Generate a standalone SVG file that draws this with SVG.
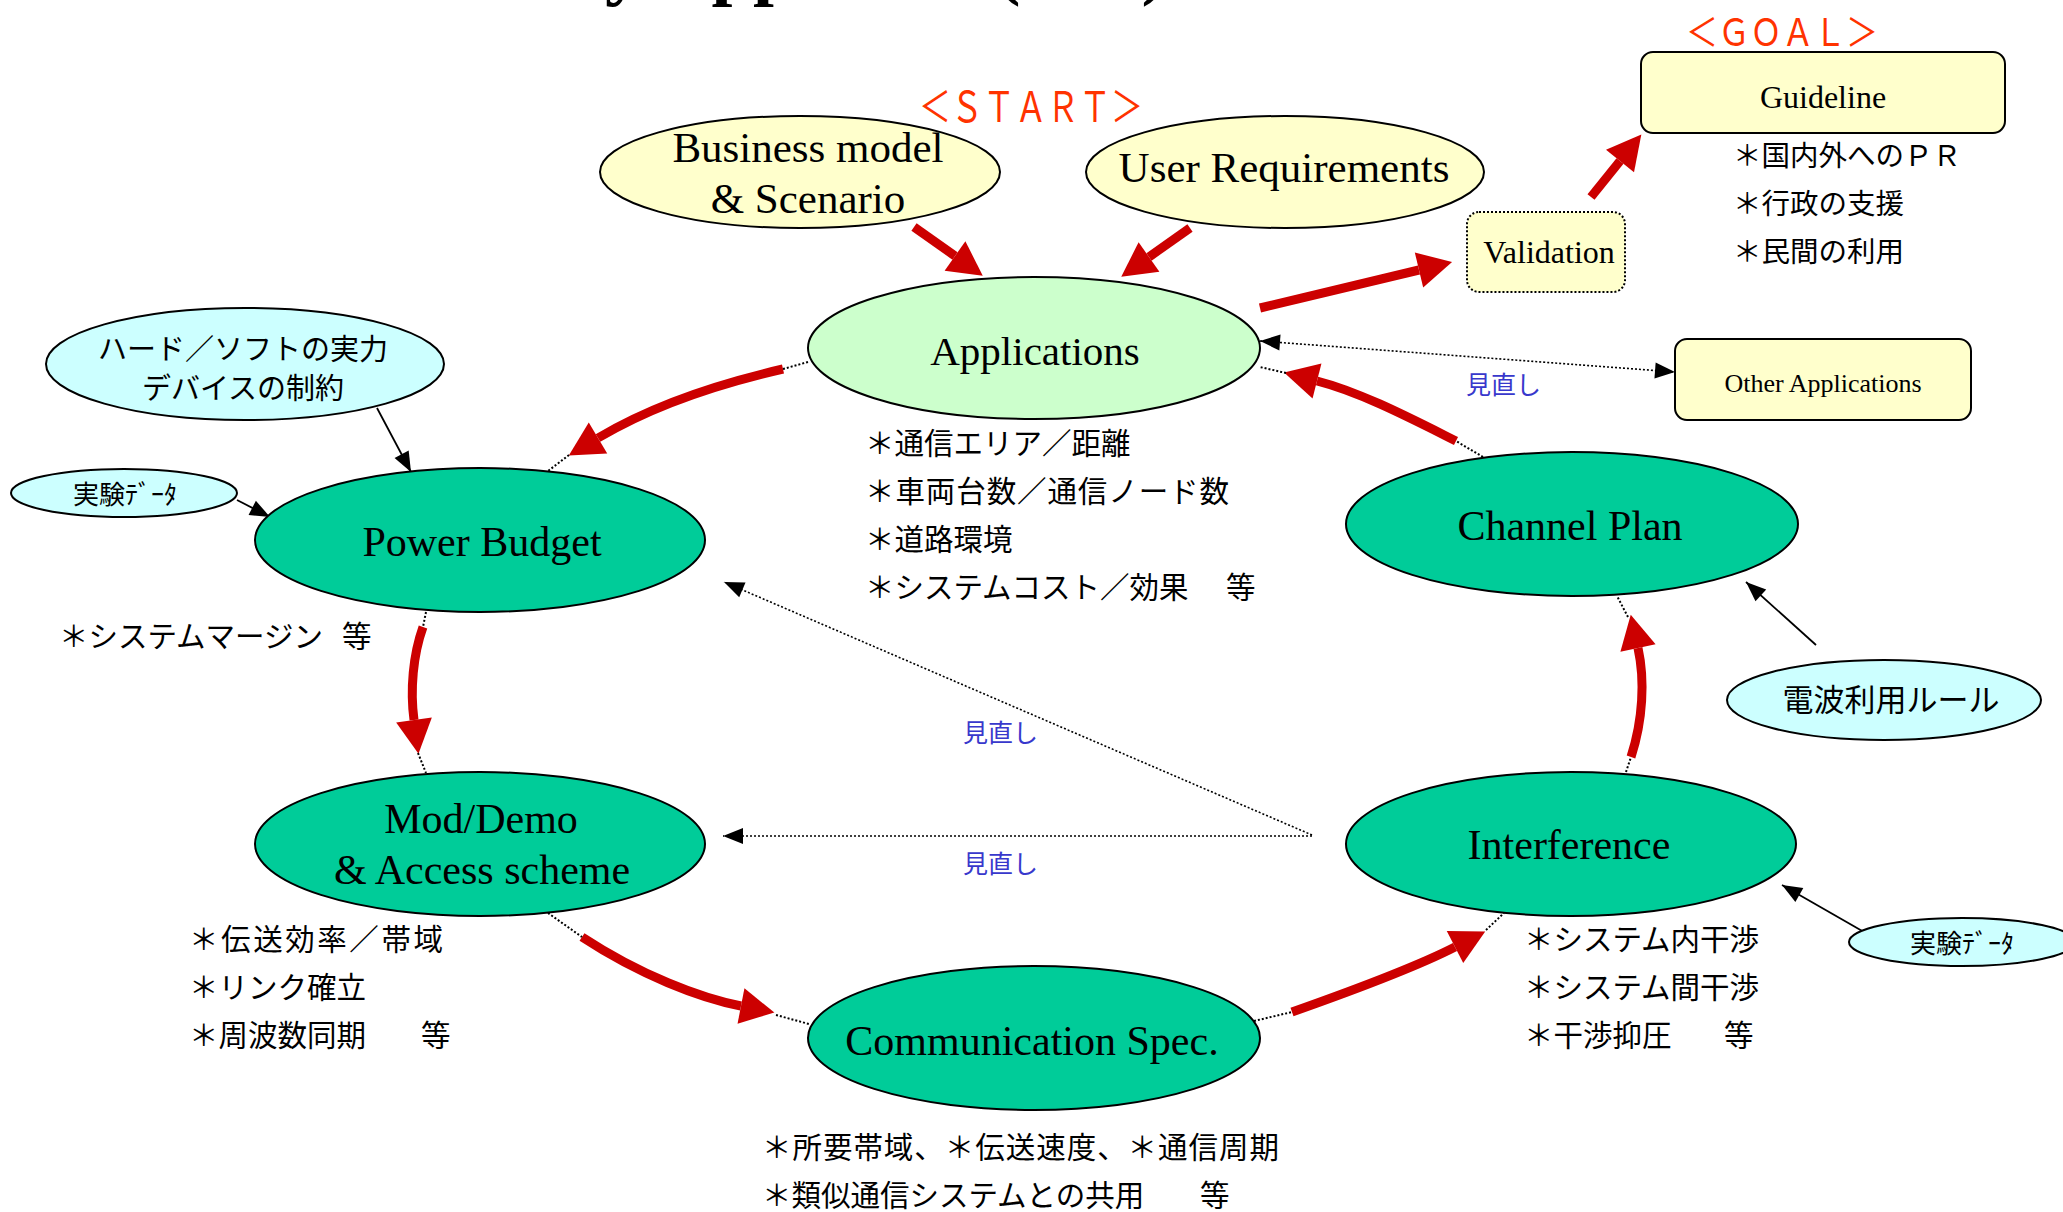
<svg xmlns="http://www.w3.org/2000/svg" width="2063" height="1212" viewBox="0 0 2063 1212">
<defs>
<style>
.serif{font-family:'Liberation Serif','Times New Roman',serif;fill:#000}
.jp{font-family:'Noto Sans CJK JP','Noto Sans',sans-serif;fill:#000}
.green{fill:#00CC99;stroke:#000;stroke-width:2}
.apps{fill:#CCFFCC;stroke:#000;stroke-width:2}
.yellow{fill:#FFFFCC;stroke:#000;stroke-width:2}
.yellowdot{fill:#FFFFCC;stroke:#000;stroke-width:2;stroke-dasharray:2 2}
.cyan{fill:#CCFFFF;stroke:#000;stroke-width:2}
.red{fill:none;stroke:#CC0000;stroke-width:9}
.dot{fill:none;stroke:#000;stroke-width:2;stroke-dasharray:2 2}
.ldot{fill:none;stroke:#000;stroke-width:1.6;stroke-dasharray:2 2}
.thin{fill:none;stroke:#000;stroke-width:1.8}
.mark{font-family:'Noto Sans CJK JP',sans-serif;fill:#FF3300;font-size:32px}
.rev{font-family:'Noto Sans CJK JP',sans-serif;fill:#3838CC;font-size:25px}
.bul{font-size:29.5px}
</style>
<marker id="redhead" markerUnits="userSpaceOnUse" markerWidth="40" markerHeight="40" viewBox="0 -20 40 40" refX="0" refY="0" orient="auto" overflow="visible">
<path d="M0,-18 L34,0 L0,18 Z" fill="#CC0000"/>
</marker>
<marker id="blackhead" markerUnits="userSpaceOnUse" markerWidth="20" markerHeight="20" viewBox="0 -10 20 20" refX="20" refY="0" orient="auto-start-reverse" overflow="visible">
<path d="M0,-8 L20,0 L0,8 Z" fill="#000"/>
</marker>
</defs>
<rect width="2063" height="1212" fill="#fff"/>

<text id="title" class="serif" x="455" y="-9" font-size="75" font-weight="bold">Study Approach (ITS)</text>

<g id="connectors">
<!-- red flow arrows -->
<path class="red" d="M914,227 L955,256" marker-end="url(#redhead)"/>
<path class="red" d="M1190,228 L1149,257" marker-end="url(#redhead)"/>
<path class="red" d="M1260,308 L1419,270" marker-end="url(#redhead)"/>
<path class="red" d="M1591,197 L1620,161" marker-end="url(#redhead)"/>
<path class="red" d="M783,369 Q670,395 598,438" marker-end="url(#redhead)"/>
<path class="red" d="M423,627 C413,655 410,690 414,720" marker-end="url(#redhead)"/>
<path class="red" d="M582,937 C640,975 700,998 741,1006" marker-end="url(#redhead)"/>
<path class="red" d="M1292,1012 C1360,988 1420,965 1455,947" marker-end="url(#redhead)"/>
<path class="red" d="M1631,757 C1643,720 1645,680 1638,648" marker-end="url(#redhead)"/>
<path class="red" d="M1456,441 C1410,418 1360,392 1317,381" marker-end="url(#redhead)"/>
<!-- dotted ends of red arrows -->
<path class="dot" d="M808,362 L783,369"/>
<path class="dot" d="M569,455 L548,471"/>
<path class="dot" d="M426,612 L423,627"/>
<path class="dot" d="M418,753 L426,773"/>
<path class="dot" d="M548,913 L582,937"/>
<path class="dot" d="M776,1015 L809,1024"/>
<path class="dot" d="M1254,1021 L1292,1012"/>
<path class="dot" d="M1486,930 L1504,913"/>
<path class="dot" d="M1626,772 L1631,757"/>
<path class="dot" d="M1628,617 L1617,596"/>
<path class="dot" d="M1483,457 L1456,441"/>
<path class="dot" d="M1286,373 L1260,367"/>
<!-- thin input arrows -->
<path class="thin" d="M377,408 L411,472" marker-end="url(#blackhead)"/>
<path class="thin" d="M237,500 L270,517" marker-end="url(#blackhead)"/>
<path class="thin" d="M1816,645 L1746,582" marker-end="url(#blackhead)"/>
<path class="thin" d="M1864,932 L1782,885" marker-end="url(#blackhead)"/>
<!-- review (dotted) arrows -->
<path class="ldot" d="M1260,341 L1675,372" marker-start="url(#blackhead)" marker-end="url(#blackhead)"/>
<path class="ldot" d="M1312,836 L723,836" marker-end="url(#blackhead)"/>
<path class="ldot" d="M1312,835 L724,582" marker-end="url(#blackhead)"/>
<text class="rev" x="1466" y="394">見直し</text>
<text class="rev" x="963" y="742">見直し</text>
<text class="rev" x="963" y="873">見直し</text>
</g>

<text id="start-label" class="mark" text-anchor="middle" transform="translate(1031,122) scale(1,1.3)">＜ＳＴＡＲＴ＞</text>
<text id="goal-label" class="mark" text-anchor="middle" transform="translate(1782,46) scale(1,1.2)">＜ＧＯＡＬ＞</text>

<g id="business-model">
<ellipse class="yellow" cx="800" cy="172" rx="200" ry="56"/>
<text class="serif" font-size="43" text-anchor="middle" x="808" y="162">Business model</text>
<text class="serif" font-size="43" text-anchor="middle" x="808" y="213">&amp; Scenario</text>
</g>

<g id="user-requirements">
<ellipse class="yellow" cx="1285" cy="172" rx="199" ry="56"/>
<text class="serif" font-size="43" text-anchor="middle" x="1284" y="182">User Requirements</text>
</g>

<g id="applications">
<ellipse class="apps" cx="1034" cy="348" rx="226" ry="71"/>
<text class="serif" font-size="41" text-anchor="middle" x="1035" y="365">Applications</text>
</g>
<g id="applications-notes">
<text class="jp bul" x="865" y="454">＊通信エリア／距離</text>
<text class="jp bul" x="865" y="502" textLength="364" lengthAdjust="spacing">＊車両台数／通信ノード数</text>
<text class="jp bul" x="865" y="550">＊道路環境</text>
<text class="jp bul" x="865" y="598">＊システムコスト／効果<tspan x="1226">等</tspan></text>
</g>

<g id="validation">
<rect class="yellowdot" x="1467" y="212" width="158" height="80" rx="12"/>
<text class="serif" font-size="32" text-anchor="middle" x="1549" y="263">Validation</text>
</g>

<g id="guideline">
<rect class="yellow" x="1641" y="52" width="364" height="81" rx="12" stroke-width="2.5"/>
<text class="serif" font-size="32" text-anchor="middle" x="1823" y="108">Guideline</text>
</g>
<g id="guideline-notes">
<text class="jp" font-size="28.5" x="1733" y="166">＊国内外へのＰＲ</text>
<text class="jp" font-size="28.5" x="1733" y="214">＊行政の支援</text>
<text class="jp" font-size="28.5" x="1733" y="262">＊民間の利用</text>
</g>

<g id="other-applications">
<rect class="yellow" x="1675" y="339" width="296" height="81" rx="12"/>
<text class="serif" font-size="26" text-anchor="middle" x="1823" y="392">Other Applications</text>
</g>

<g id="hw-sw-capability">
<ellipse class="cyan" cx="245" cy="364" rx="199" ry="56"/>
<text class="jp" font-size="29" text-anchor="middle" x="243" y="360">ハード／ソフトの実力</text>
<text class="jp" font-size="29" text-anchor="middle" x="243" y="399">デバイスの制約</text>
</g>

<g id="experiment-data-1">
<ellipse class="cyan" cx="124" cy="493" rx="113" ry="24"/>
<text class="jp" font-size="26" text-anchor="middle" x="125" y="504">実験ﾃﾞｰﾀ</text>
</g>

<g id="power-budget">
<ellipse class="green" cx="480" cy="540" rx="225" ry="72"/>
<text class="serif" font-size="42" text-anchor="middle" x="482" y="556">Power Budget</text>
</g>
<g id="power-budget-notes">
<text class="jp bul" x="59" y="647">＊システムマージン<tspan x="342">等</tspan></text>
</g>

<g id="mod-demo">
<ellipse class="green" cx="480" cy="844" rx="225" ry="72"/>
<text class="serif" font-size="42" text-anchor="middle" x="481" y="833">Mod/Demo</text>
<text class="serif" font-size="42" text-anchor="middle" x="482" y="884">&amp; Access scheme</text>
</g>
<g id="mod-demo-notes">
<text class="jp bul" x="189" y="950" textLength="254" lengthAdjust="spacing">＊伝送効率／帯域</text>
<text class="jp bul" x="189" y="998">＊リンク確立</text>
<text class="jp bul" x="189" y="1046">＊周波数同期<tspan x="421">等</tspan></text>
</g>

<g id="communication-spec">
<ellipse class="green" cx="1034" cy="1038" rx="226" ry="72"/>
<text class="serif" font-size="42" text-anchor="middle" x="1032" y="1055">Communication Spec.</text>
</g>
<g id="communication-spec-notes">
<text class="jp bul" x="762" y="1158" textLength="517" lengthAdjust="spacing">＊所要帯域、＊伝送速度、＊通信周期</text>
<text class="jp bul" x="762" y="1206">＊類似通信システムとの共用<tspan x="1200">等</tspan></text>
</g>

<g id="interference">
<ellipse class="green" cx="1571" cy="844" rx="225" ry="72"/>
<text class="serif" font-size="42" text-anchor="middle" x="1569" y="859">Interference</text>
</g>
<g id="interference-notes">
<text class="jp bul" x="1524" y="950">＊システム内干渉</text>
<text class="jp bul" x="1524" y="998">＊システム間干渉</text>
<text class="jp bul" x="1524" y="1046">＊干渉抑圧<tspan x="1724">等</tspan></text>
</g>

<g id="experiment-data-2">
<ellipse class="cyan" cx="1962" cy="942" rx="113" ry="24"/>
<text class="jp" font-size="26" text-anchor="middle" x="1962" y="953">実験ﾃﾞｰﾀ</text>
</g>

<g id="channel-plan">
<ellipse class="green" cx="1572" cy="524" rx="226" ry="72"/>
<text class="serif" font-size="42" text-anchor="middle" x="1570" y="540">Channel Plan</text>
</g>

<g id="radio-rules">
<ellipse class="cyan" cx="1884" cy="700" rx="157" ry="40"/>
<text class="jp" font-size="31" text-anchor="middle" x="1891" y="711">電波利用ルール</text>
</g>
</svg>
